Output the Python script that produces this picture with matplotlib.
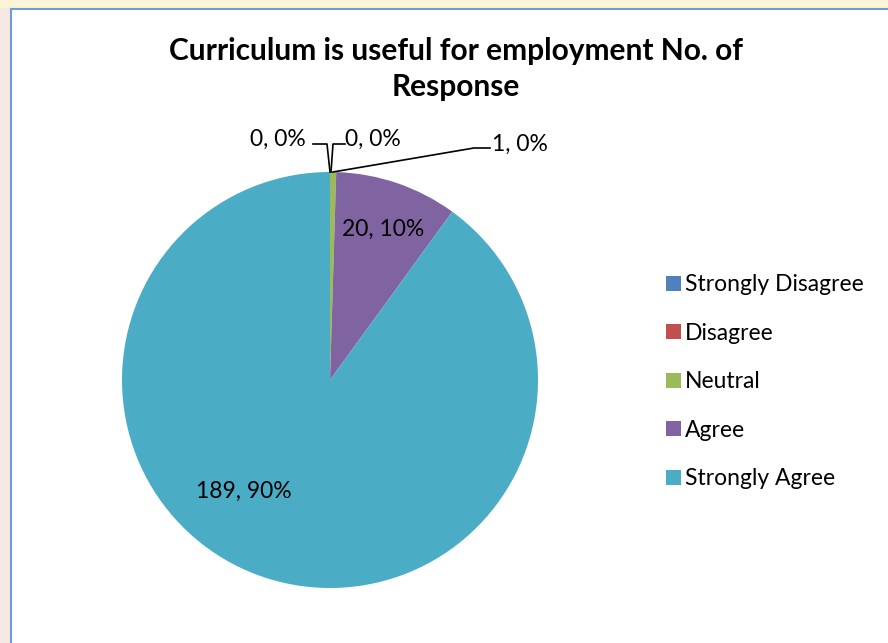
import numpy as np
import matplotlib.pyplot as plt
from matplotlib.patches import Rectangle

plt.rcParams['font.family'] = ['Lato', 'DejaVu Sans']

categories = ['Strongly Disagree', 'Disagree', 'Neutral', 'Agree', 'Strongly Agree']
responses = [0, 0, 1, 20, 189]
colors = ['#4F81BD', '#C0504D', '#9BBB59', '#8064A2', '#4BACC6']
title = 'Curriculum is useful for employment No. of\nResponse'

W, H = 888, 643
fig = plt.figure(figsize=(W / 100, H / 100), dpi=100)
fig.patch.set_facecolor('white')
ax = fig.add_axes([0, 0, 1, 1])
ax.set_xlim(0, W)
ax.set_ylim(0, H)
ax.axis('off')

# faint page background outside the chart frame
ax.add_patch(Rectangle((0, 0), 10, H, facecolor='#f6e9e4', edgecolor='none', zorder=0))
ax.add_patch(Rectangle((0, H - 8), W, 8, facecolor='#fdf3d8', edgecolor='none', zorder=0))
ax.plot([10.5, 10.5], [0, H - 8.5], color='#6f9bd8', lw=1.5, zorder=1)
ax.plot([10.5, W], [H - 8.5, H - 8.5], color='#6f9bd8', lw=1.5, zorder=1)

cx, cy, r = 330, H - 380, 208
wedges, _ = ax.pie(responses, colors=colors, startangle=90, counterclock=False,
                   center=(cx, cy), radius=r, wedgeprops=dict(linewidth=0))
ax.set_xlim(0, W)
ax.set_ylim(0, H)
ax.set_aspect('equal')

total = sum(responses)
labels = ['{0}, {1:.0f}%'.format(v, 100.0 * v / total) for v in responses]

# label positions (pixel coords from top) and leader lines
pos = [(278, 139), (373, 139), (520, 144), (383, 229), (244, 491)]
for lab, (x, y) in zip(labels, pos):
    ax.text(x, H - y, lab, fontsize=16.5, ha='center', va='center', color='black', zorder=5)

lines = [
    [(330, 172), (327, 144), (313, 144)],
    [(331, 172), (333, 144), (345, 144)],
    [(333, 172), (474, 148), (490, 148)],
]
for pts in lines:
    xs = [p[0] for p in pts]
    ys = [H - p[1] for p in pts]
    ax.plot(xs, ys, color='black', lw=1.2, zorder=4)

fig.text(456 / W, 1 - 69 / H, title, fontsize=21.5, fontweight='bold',
         ha='center', va='center', linespacing=1.35)

leg = ax.legend(wedges, categories, loc='upper left', bbox_to_anchor=(655 / W, 1 - 263 / H),
                bbox_transform=fig.transFigure, frameon=False, fontsize=16.5,
                handlelength=0.62, handleheight=0.62, handletextpad=0.2,
                labelspacing=1.2, borderpad=0)

fig.savefig('out.png', dpi=100, facecolor='white')
